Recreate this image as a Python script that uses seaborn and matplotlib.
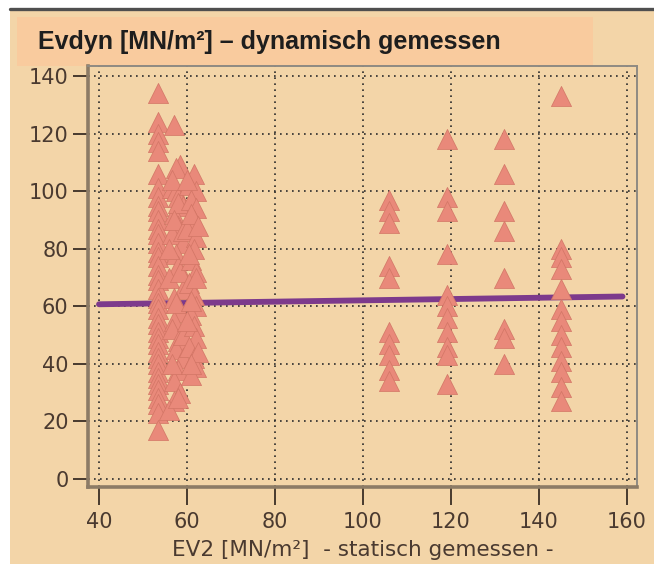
import numpy as np
import pandas as pd
import matplotlib
matplotlib.use("Agg")
import matplotlib.pyplot as plt
from matplotlib.patches import Rectangle
from matplotlib.lines import Line2D
import seaborn as sns

# ---------------- data ----------------
col_a_x = [53.5] * 39
col_a_y = [134, 124, 120, 117, 114, 106, 101, 98, 95, 93, 90, 87, 85, 82, 79, 77, 74,
           71, 69, 66, 63, 61, 59, 56, 54, 51, 49, 47, 44, 42, 40, 37, 35, 33, 31, 28,
           26, 23, 17]
col_b_x = [57.0, 58.5, 57.5, 56.5, 57.5, 58, 59, 57, 58, 56.5, 59, 57.5, 58, 56, 59, 57,
           58.5, 57, 56.5, 58, 57.5, 59, 58, 57, 58.5, 57, 56,
           56.5, 58, 57, 59, 56, 58.5, 57.5, 59, 56.5, 58]
col_b_y = [123, 109, 108, 101, 100, 98, 95, 92, 88, 85, 82, 78, 74, 70, 66, 63, 58, 55,
           52, 48, 45, 42, 38, 34, 30, 27, 24,
           104, 96, 90, 86, 80, 72, 61, 50, 40, 28]
col_c_x = [61.5, 60.5, 62, 61, 62, 61.5, 60, 62, 61.5, 61, 62, 60.5, 61.5, 62, 61, 61.5,
           62, 60.5, 61.5, 62, 61,
           60, 61, 62.5, 60.5, 62, 61, 60, 62.5, 61]
col_c_y = [106, 102, 100, 97, 94, 90, 87, 84, 80, 76, 72, 68, 64, 60, 57, 53, 49, 46,
           42, 39, 36,
           104, 92, 88, 78, 70, 62, 55, 44, 40]
col_106_y = [97, 93, 89, 74, 70, 51, 47, 43, 38, 34]
col_119_y = [118, 98, 93, 78, 64, 60, 56, 51, 46, 43, 33]
col_132_y = [118, 106, 93, 86, 70, 52, 49, 40]
col_145_y = [133, 80, 77, 73, 66, 59, 55, 50, 46, 41, 37, 32, 27]

trend_x = [40, 159]
trend_y = [60.7, 63.4]

x_ticks = [40, 60, 80, 100, 120, 140, 160]
y_ticks = [0, 20, 40, 60, 80, 100, 120, 140]

title_text = "Evdyn [MN/m²] – dynamisch gemessen"
xlabel_text = "EV2 [MN/m²]  - statisch gemessen -"

ev2 = (col_a_x + col_b_x + col_c_x + [106] * len(col_106_y) + [119] * len(col_119_y)
       + [132] * len(col_132_y) + [145] * len(col_145_y))
evdyn = col_a_y + col_b_y + col_c_y + col_106_y + col_119_y + col_132_y + col_145_y
df = pd.DataFrame({"EV2": ev2, "Evdyn": evdyn})
trend_df = pd.DataFrame({"EV2": trend_x, "Evdyn": trend_y})

# ---------------- style ----------------
sns.set_theme(style="ticks")
plt.rcParams["font.family"] = ["DejaVu Sans"]

BEIGE = "#F3D5A8"
BOX = "#F9CB9E"
TXT = "#4A3A30"

W, H = 654, 564
fig = plt.figure(figsize=(W / 100, H / 100), dpi=100)
fig.patch.set_facecolor("white")

# beige panel
fig.patches.append(Rectangle((10 / W, 0), 1 - 10 / W, (H - 11) / H, transform=fig.transFigure,
                             facecolor=BEIGE, edgecolor="none", zorder=-10))
# dark top rule
fig.lines.append(Line2D([10 / W, 1], [1 - 8.5 / H, 1 - 8.5 / H], transform=fig.transFigure,
                        color="#4F4F4F", linewidth=2.4, zorder=-9))
# title box
fig.patches.append(Rectangle((17 / W, 1 - 66 / H), (593 - 17) / W, (66 - 17) / H,
                             transform=fig.transFigure, facecolor=BOX, edgecolor="none",
                             zorder=-8))
fig.text(38 / W, 1 - 42 / H, title_text, fontsize=18, fontweight="bold",
         family=["Liberation Sans", "DejaVu Sans"], color="#1E1E1E", va="center", ha="left")

ax = fig.add_axes([88 / W, 77 / H, (637 - 88) / W, (487 - 66) / H])
ax.set_facecolor(BEIGE)

sns.lineplot(data=trend_df, x="EV2", y="Evdyn", ax=ax, color="#7D3A8C", linewidth=4.2,
             zorder=2)
sns.scatterplot(data=df, x="EV2", y="Evdyn", ax=ax, marker="^", s=210, color="#E9897A",
                edgecolor="#D27565", linewidth=0.5, zorder=3)

ax.set_xlim(37.5, 162.3)
ax.set_ylim(-2.8, 143.5)
ax.set_xticks(x_ticks)
ax.set_yticks(y_ticks)
ax.set_xticklabels([str(v) for v in x_ticks])
ax.set_yticklabels([str(v) for v in y_ticks])

ax.grid(True, linestyle=(0, (1, 2.6)), color="#2B2B2B", linewidth=1.2, zorder=1)
ax.set_axisbelow(True)

for side in ["left", "bottom"]:
    ax.spines[side].set_color("#8C7B66")
    ax.spines[side].set_linewidth(2.6)
for side in ["top", "right"]:
    ax.spines[side].set_color("#8F8A82")
    ax.spines[side].set_linewidth(1.4)
    ax.spines[side].set_visible(True)

ax.tick_params(axis="x", direction="out", length=13, width=1.3, color="#3A2E25",
               labelsize=15, labelcolor=TXT, pad=5)
ax.tick_params(axis="y", direction="out", length=11, width=1.3, color="#3A2E25",
               labelsize=15, labelcolor=TXT, pad=3)

ax.set_xlabel(xlabel_text, fontsize=15.5, color=TXT, labelpad=6)
ax.set_ylabel("")

fig.savefig("out.png", dpi=100, facecolor=fig.get_facecolor())
